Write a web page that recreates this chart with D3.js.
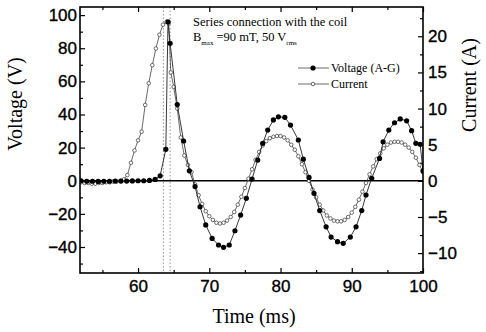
<!DOCTYPE html>
<html>
<head>
<meta charset="utf-8">
<script src="https://cdn.jsdelivr.net/npm/d3@7"></script>
<style>
  body { margin: 0; background: #fff; }
  svg { display: block; }
</style>
</head>
<body>
<svg id="chart"></svg>
<script>
// Voltage (A-G), filled circles, left axis (V)
const voltageTime = [52.0, 52.8, 53.6, 54.4, 55.2, 56.0, 56.8, 57.6, 58.4, 59.2,
  60.0, 60.8, 61.6, 62.4, 63.1, 63.9, 64.2, 64.5, 65.5, 66.4,
  67.2, 68.0, 68.7, 69.5, 70.4, 71.3, 72.0, 72.8, 73.6, 74.4,
  75.2, 76.0, 76.8, 77.5, 78.2, 79.0, 79.7, 80.6, 81.4, 82.5,
  83.2, 84.0, 84.7, 85.5, 86.4, 87.1, 88.0, 88.8, 89.8, 90.6,
  91.4, 92.0, 92.8, 93.9, 94.4, 95.2, 96.0, 96.8, 97.7, 98.4,
  99.0, 99.6, 100.0];
const voltage = [0, -0.3, -0.3, -0.4, -0.3, -0.3, -0.2, -0.2, -0.2, -0.1,
  0, 0, 0.2, 0.8, 3, 19, 96, 83, 46, 24,
  6, -3.5, -15.7, -26.7, -34.8, -38.8, -40.2, -38.8, -30.2, -20.7,
  -10.6, 1, 12.5, 22.6, 30.6, 36.7, 38.6, 38.3, 33.6, 24.6,
  13, 2, -7.6, -18, -27.8, -34, -36.8, -37.8, -34, -27.8,
  -18, -8.6, 1.5, 13.5, 23.5, 30.6, 35, 37.3, 36.2, 30.2,
  22.6, 22, 6];

// Current, open circles, right axis (A)
const currentTime = [52.0, 52.5, 53.0, 53.5, 54.0, 54.5, 55.0, 55.5, 56.0, 56.5,
  57.0, 57.5, 58.0, 58.5, 59.0, 59.5, 60.0, 60.5, 61.0, 61.5,
  62.0, 62.5, 63.0, 63.5, 64.0, 64.3, 64.6, 65.0, 65.5, 66.0,
  66.5, 67.0, 67.5, 68.0, 68.5, 69.0, 69.5, 70.0, 70.5, 71.0,
  71.5, 72.0, 72.5, 73.0, 73.5, 74.0, 74.5, 75.0, 75.5, 76.0,
  76.5, 77.0, 77.5, 78.0, 78.5, 79.0, 79.5, 80.0, 80.5, 81.0,
  81.5, 82.0, 82.5, 83.0, 83.5, 84.0, 84.5, 85.0, 85.5, 86.0,
  86.5, 87.0, 87.5, 88.0, 88.5, 89.0, 89.5, 90.0, 90.5, 91.0,
  91.5, 92.0, 92.5, 93.0, 93.5, 94.0, 94.5, 95.0, 95.5, 96.0,
  96.5, 97.0, 97.5, 98.0, 98.5, 99.0, 99.5, 100.0];
const current = [-0.2, -0.3, -0.3, -0.4, -0.4, -0.3, -0.3, -0.2, -0.2, -0.1,
  -0.1, 0, 0.2, 0.8, 2.5, 4.2, 5.6, 6.8, 10.5, 13.5,
  16, 18.3, 20.2, 21.6, 22, 21.8, 15, 13, 10, 6,
  3.5, 2.2, 1.2, -0.5, -2, -3.2, -4.2, -4.9, -5.4, -5.8,
  -5.9, -5.8, -5.5, -5, -4.3, -3.3, -2.2, -1, 0.3, 1.6,
  2.9, 4, 4.9, 5.5, 5.9, 6.1, 6.2, 6.2, 6, 5.6,
  5, 4.3, 3.4, 2.3, 1.2, 0, -1.2, -2.3, -3.3, -4.1,
  -4.8, -5.2, -5.5, -5.6, -5.6, -5.4, -5, -4.4, -3.6, -2.6,
  -1.5, -0.3, 0.9, 2, 3, 3.8, 4.5, 5, 5.3, 5.4,
  5.4, 5.3, 5, 4.6, 4, 3.2, 2.2, 1.2];

// Tick values
const timeTicks = [60, 70, 80, 90, 100];
const timeMinor = [55, 65, 75, 85, 95];
const voltTicks = [-40, -20, 0, 20, 40, 60, 80, 100];
const voltMinor = [-50, -30, -10, 10, 30, 50, 70, 90];
const ampTicks = [-10, -5, 0, 5, 10, 15, 20];
const ampMinor = [-12.5, -7.5, -2.5, 2.5, 7.5, 12.5, 17.5, 22.5];

// dotted markers around the pulse peak
const markerTimes = [63.55, 64.5];

const width = 486, height = 332;
const margin = { top: 7, right: 63, bottom: 59, left: 80 };
const innerW = width - margin.left - margin.right;
const innerH = height - margin.top - margin.bottom;

const svg = d3.select('#chart').attr('width', width).attr('height', height);

const x = d3.scaleLinear().domain([51.85, 100]).range([0, innerW]);
const yV = d3.scaleLinear().domain([-55.7, 104.9]).range([innerH, 0]);
const yA = d3.scaleLinear().domain([-12.75, 24.05]).range([innerH, 0]);

const g = svg.append('g').attr('transform', `translate(${margin.left},${margin.top})`);

g.append('clipPath').attr('id', 'clip')
  .append('rect').attr('width', innerW).attr('height', innerH);

const tickFont = 'Liberation Sans, Arial, sans-serif';
const serif = 'Liberation Serif, Times New Roman, serif';

function styleAxis(sel) {
  sel.select('.domain').remove();
  sel.selectAll('line').attr('stroke', '#000').attr('stroke-width', 1.2);
  sel.selectAll('text').attr('font-family', tickFont).attr('font-size', 17)
    .attr('fill', '#000').attr('stroke', '#000').attr('stroke-width', 0.35);
}

// Axes (ticks point inward)
g.append('g').attr('transform', `translate(0,${innerH})`)
  .call(d3.axisBottom(x).tickValues(timeTicks).tickSize(-5).tickPadding(7))
  .call(styleAxis);
g.append('g').attr('transform', `translate(0,${innerH})`)
  .call(d3.axisBottom(x).tickValues(timeMinor).tickSize(-3).tickFormat(''))
  .call(styleAxis);
g.append('g')
  .call(d3.axisTop(x).tickValues(timeTicks).tickSize(-5).tickFormat(''))
  .call(styleAxis);
g.append('g')
  .call(d3.axisTop(x).tickValues(timeMinor).tickSize(-3).tickFormat(''))
  .call(styleAxis);

g.append('g')
  .call(d3.axisLeft(yV).tickValues(voltTicks).tickSize(-5).tickPadding(3))
  .call(styleAxis);
g.append('g')
  .call(d3.axisLeft(yV).tickValues(voltMinor).tickSize(-3).tickFormat(''))
  .call(styleAxis);

g.append('g').attr('transform', `translate(${innerW},0)`)
  .call(d3.axisRight(yA).tickValues(ampTicks).tickSize(-5).tickPadding(5))
  .call(styleAxis);
g.append('g').attr('transform', `translate(${innerW},0)`)
  .call(d3.axisRight(yA).tickValues(ampMinor).tickSize(-3).tickFormat(''))
  .call(styleAxis);

const plot = g.append('g').attr('clip-path', 'url(#clip)');

// dotted vertical lines at the pulse
plot.selectAll('.vmark').data(markerTimes).enter().append('line')
  .attr('x1', d => x(d)).attr('x2', d => x(d))
  .attr('y1', 0).attr('y2', innerH)
  .attr('stroke', '#777').attr('stroke-width', 0.8)
  .attr('stroke-dasharray', '1.5,2');

// zero line
plot.append('line')
  .attr('x1', 0).attr('x2', innerW)
  .attr('y1', yV(0)).attr('y2', yV(0))
  .attr('stroke', '#000').attr('stroke-width', 1.5);

const currentData = currentTime.map((t, i) => ({ t, v: current[i] }));
const voltageData = voltageTime.map((t, i) => ({ t, v: voltage[i] }));

// Current line + open circles
plot.append('path').datum(currentData)
  .attr('fill', 'none').attr('stroke', '#444').attr('stroke-width', 0.8)
  .attr('d', d3.line().x(d => x(d.t)).y(d => yA(d.v)));
plot.selectAll('.cpt').data(currentData).enter().append('circle')
  .attr('cx', d => x(d.t)).attr('cy', d => yA(d.v)).attr('r', 1.8)
  .attr('fill', '#fff').attr('stroke', '#333').attr('stroke-width', 0.7);

// Voltage line + filled circles
plot.append('path').datum(voltageData)
  .attr('fill', 'none').attr('stroke', '#222').attr('stroke-width', 0.9)
  .attr('d', d3.line().x(d => x(d.t)).y(d => yV(d.v)));
plot.selectAll('.vpt').data(voltageData).enter().append('circle')
  .attr('cx', d => x(d.t)).attr('cy', d => yV(d.v)).attr('r', 2.6)
  .attr('fill', '#000');

// Frame
g.append('rect').attr('width', innerW).attr('height', innerH)
  .attr('fill', 'none').attr('stroke', '#000').attr('stroke-width', 1.6);

// Axis titles
svg.append('text')
  .attr('transform', `translate(22,${margin.top + innerH / 2 - 36}) rotate(-90)`)
  .attr('text-anchor', 'middle').attr('font-family', serif).attr('font-size', 20)
  .text('Voltage (V)');
svg.append('text')
  .attr('transform', `translate(476,${margin.top + innerH / 2 - 55}) rotate(-90)`)
  .attr('text-anchor', 'middle').attr('font-family', serif).attr('font-size', 20)
  .text('Current (A)');
svg.append('text')
  .attr('x', 254).attr('y', 323)
  .attr('text-anchor', 'middle').attr('font-family', serif).attr('font-size', 20)
  .text('Time (ms)');

// Annotation
const note = svg.append('g').attr('font-family', serif).attr('fill', '#000');
note.append('text').attr('x', 193).attr('y', 26).attr('font-size', 12.5)
  .text('Series connection with the coil');
const l2 = note.append('text').attr('x', 193).attr('y', 41).attr('font-size', 12.5);
l2.append('tspan').text('B');
l2.append('tspan').attr('font-size', 7).attr('dy', 4).text('max');
l2.append('tspan').attr('dy', -4).text(' =90 mT, 50 V');
l2.append('tspan').attr('font-size', 7).attr('dy', 4).text('rms');

// Legend
const legend = svg.append('g').attr('font-family', serif).attr('font-size', 12);
const legendItems = [
  { label: 'Voltage (A-G)', filled: true, y: 68 },
  { label: 'Current', filled: false, y: 84 }
];
legendItems.forEach(item => {
  legend.append('line').attr('x1', 298).attr('x2', 329)
    .attr('y1', item.y).attr('y2', item.y)
    .attr('stroke', '#444').attr('stroke-width', 0.8);
  legend.append('circle').attr('cx', 313).attr('cy', item.y)
    .attr('r', item.filled ? 2.6 : 1.8)
    .attr('fill', item.filled ? '#000' : '#fff')
    .attr('stroke', item.filled ? 'none' : '#333').attr('stroke-width', 0.7);
  legend.append('text').attr('x', 331).attr('y', item.y + 4).text(item.label);
});
</script>
</body>
</html>
